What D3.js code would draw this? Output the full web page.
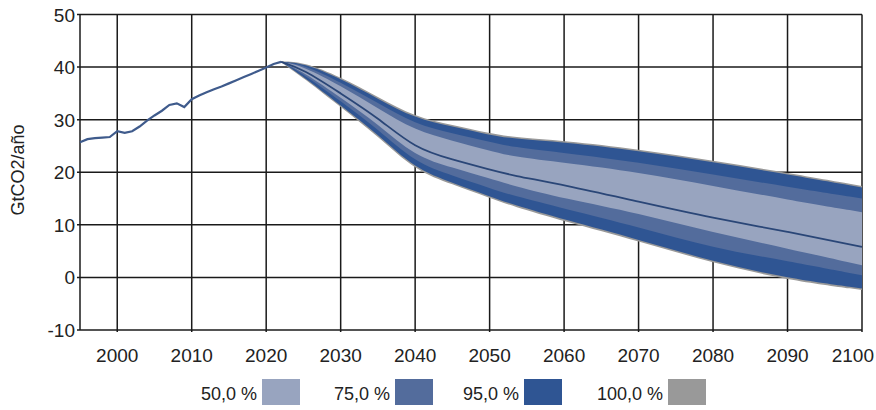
<!DOCTYPE html>
<html>
<head>
<meta charset="utf-8">
<script src="https://cdn.jsdelivr.net/npm/d3@7"></script>
<style>
  html, body { margin: 0; padding: 0; background: #fff; }
  svg { display: block; font-family: "Liberation Sans", Arial, sans-serif; }
</style>
</head>
<body>
<svg id="chart" width="876" height="410"></svg>
<script>
// Historical emissions (GtCO2/año)
const histYears = [1995, 1996, 1997, 1998, 1999, 2000, 2001, 2002, 2003, 2004, 2005, 2006, 2007, 2008, 2009, 2010, 2011, 2012, 2013, 2014, 2015, 2016, 2017, 2018, 2019, 2020, 2021, 2022];
const histValues = [25.7, 26.3, 26.5, 26.6, 26.7, 27.8, 27.5, 27.8, 28.7, 29.8, 30.8, 31.7, 32.8, 33.1, 32.4, 33.9, 34.6, 35.2, 35.8, 36.3, 36.9, 37.5, 38.1, 38.7, 39.3, 39.9, 40.6, 41.0];

// Projection quantiles
const projYears = [2022, 2025, 2030, 2035, 2040, 2045, 2050, 2053, 2060, 2070, 2080, 2090, 2100];
const hi100 = [41.1, 41.0, 38.1, 34.3, 30.5, 29.0, 27.4, 26.7, 26.0, 24.4, 22.2, 19.9, 17.4];
const hi95  = [41.0, 40.8, 37.8, 34.0, 30.2, 28.7, 27.1, 26.4, 25.7, 24.1, 21.9, 19.6, 17.1];
const hi75  = [41.0, 40.5, 37.1, 33.2, 29.1, 27.4, 25.8, 24.8, 23.7, 21.9, 19.6, 17.2, 15.0];
const hi50  = [41.0, 40.2, 36.4, 32.2, 27.9, 26.0, 24.1, 23.0, 21.8, 20.0, 17.4, 14.8, 12.4];
const median = [41.0, 39.6, 35.0, 30.4, 24.5, 22.4, 20.5, 19.4, 17.6, 14.4, 11.3, 8.7, 5.8];
const lo50  = [41.0, 39.1, 34.2, 29.2, 23.0, 20.9, 18.8, 17.5, 15.0, 12.2, 8.5, 5.5, 2.3];
const lo75  = [41.0, 38.7, 33.5, 28.2, 21.8, 19.4, 17.0, 15.6, 13.1, 9.6, 5.6, 3.1, 0.4];
const lo95  = [41.0, 38.2, 32.7, 27.2, 20.6, 18.0, 15.4, 13.9, 11.0, 7.2, 3.0, -0.2, -2.1];
const lo100 = [40.9, 38.0, 32.4, 26.9, 20.3, 17.7, 15.1, 13.6, 10.7, 6.9, 2.7, -0.5, -2.4];

const xTicks = [2000, 2010, 2020, 2030, 2040, 2050, 2060, 2070, 2080, 2090, 2100];
const yTicks = [-10, 0, 10, 20, 30, 40, 50];

const bandLabels = ["50,0 %", "75,0 %", "95,0 %", "100,0 %"];
const bandColors = ["#98a4bf", "#536c9c", "#2f5593", "#999999"];

const W = 876;
const svg = d3.select("#chart");
const x = d3.scaleLinear().domain([1995, 2100]).range([80, 862]);
const y = d3.scaleLinear().domain([-10, 50]).range([330, 14.5]);

// Grid and frame
const grid = svg.append("g");
grid.selectAll("line.v").data(xTicks).join("line")
  .attr("x1", d => x(d)).attr("x2", d => x(d))
  .attr("y1", y(50)).attr("y2", y(-10) + 2)
  .attr("stroke", "#1a1a1a").attr("stroke-width", 1.5);
grid.selectAll("line.h").data(yTicks).join("line")
  .attr("x1", x(1995) - 3).attr("x2", x(2100))
  .attr("y1", d => y(d)).attr("y2", d => y(d))
  .attr("stroke", "#1a1a1a").attr("stroke-width", 1.5);
grid.append("line")
  .attr("x1", x(1995)).attr("x2", x(1995))
  .attr("y1", y(50)).attr("y2", y(-10))
  .attr("stroke", "#1a1a1a").attr("stroke-width", 1.5);

// Tick labels
svg.append("g").selectAll("text").data(yTicks).join("text")
  .attr("x", 75).attr("y", d => y(d) + 7)
  .attr("text-anchor", "end").attr("font-size", 19).attr("fill", "#222")
  .text(d => d);
svg.append("g").selectAll("text").data(xTicks).join("text")
  .attr("x", d => x(d)).attr("y", 362)
  .attr("text-anchor", "middle").attr("font-size", 19).attr("fill", "#222")
  .text(d => d)
  .each(function () {
    // keep the last label inside the canvas
    const b = this.getBBox();
    if (b.x + b.width > W - 2) d3.select(this).attr("x", W - 2 - b.width / 2);
  });
svg.append("text")
  .attr("transform", "translate(24,170) rotate(-90)")
  .attr("text-anchor", "middle").attr("font-size", 18).attr("fill", "#222")
  .text("GtCO2/año");

// Uncertainty bands, smoothed
const curve = d3.curveBasis;
const proj = projYears.map((yr, i) => ({ yr, i }));
function band(hi, lo) {
  return d3.area().curve(curve)
    .x(d => x(d.yr)).y0(d => y(lo[d.i])).y1(d => y(hi[d.i]));
}
const bands = [[hi100, lo100, bandColors[3]], [hi95, lo95, bandColors[2]], [hi75, lo75, bandColors[1]], [hi50, lo50, bandColors[0]]];
bands.forEach(([hi, lo, c]) => {
  svg.append("path").datum(proj).attr("d", band(hi, lo)).attr("fill", c);
});

// Median projection
svg.append("path").datum(proj)
  .attr("d", d3.line().curve(curve).x(d => x(d.yr)).y(d => y(median[d.i])))
  .attr("fill", "none").attr("stroke", "#2a4677").attr("stroke-width", 1.8);

// Historical line
svg.append("path").datum(histYears.map((yr, i) => ({ yr, v: histValues[i] })))
  .attr("d", d3.line().x(d => x(d.yr)).y(d => y(d.v)))
  .attr("fill", "none").attr("stroke", "#3f5b8c").attr("stroke-width", 2.2);

// Legend
const legendX = [257, 390, 519, 663];
const legend = svg.append("g");
bandLabels.forEach((lab, i) => {
  legend.append("text").attr("x", legendX[i]).attr("y", 400)
    .attr("text-anchor", "end").attr("font-size", 18).attr("fill", "#222").text(lab);
  legend.append("rect").attr("x", legendX[i] + 5).attr("y", 379)
    .attr("width", 38).attr("height", 26).attr("fill", bandColors[i]);
});
</script>
</body>
</html>
